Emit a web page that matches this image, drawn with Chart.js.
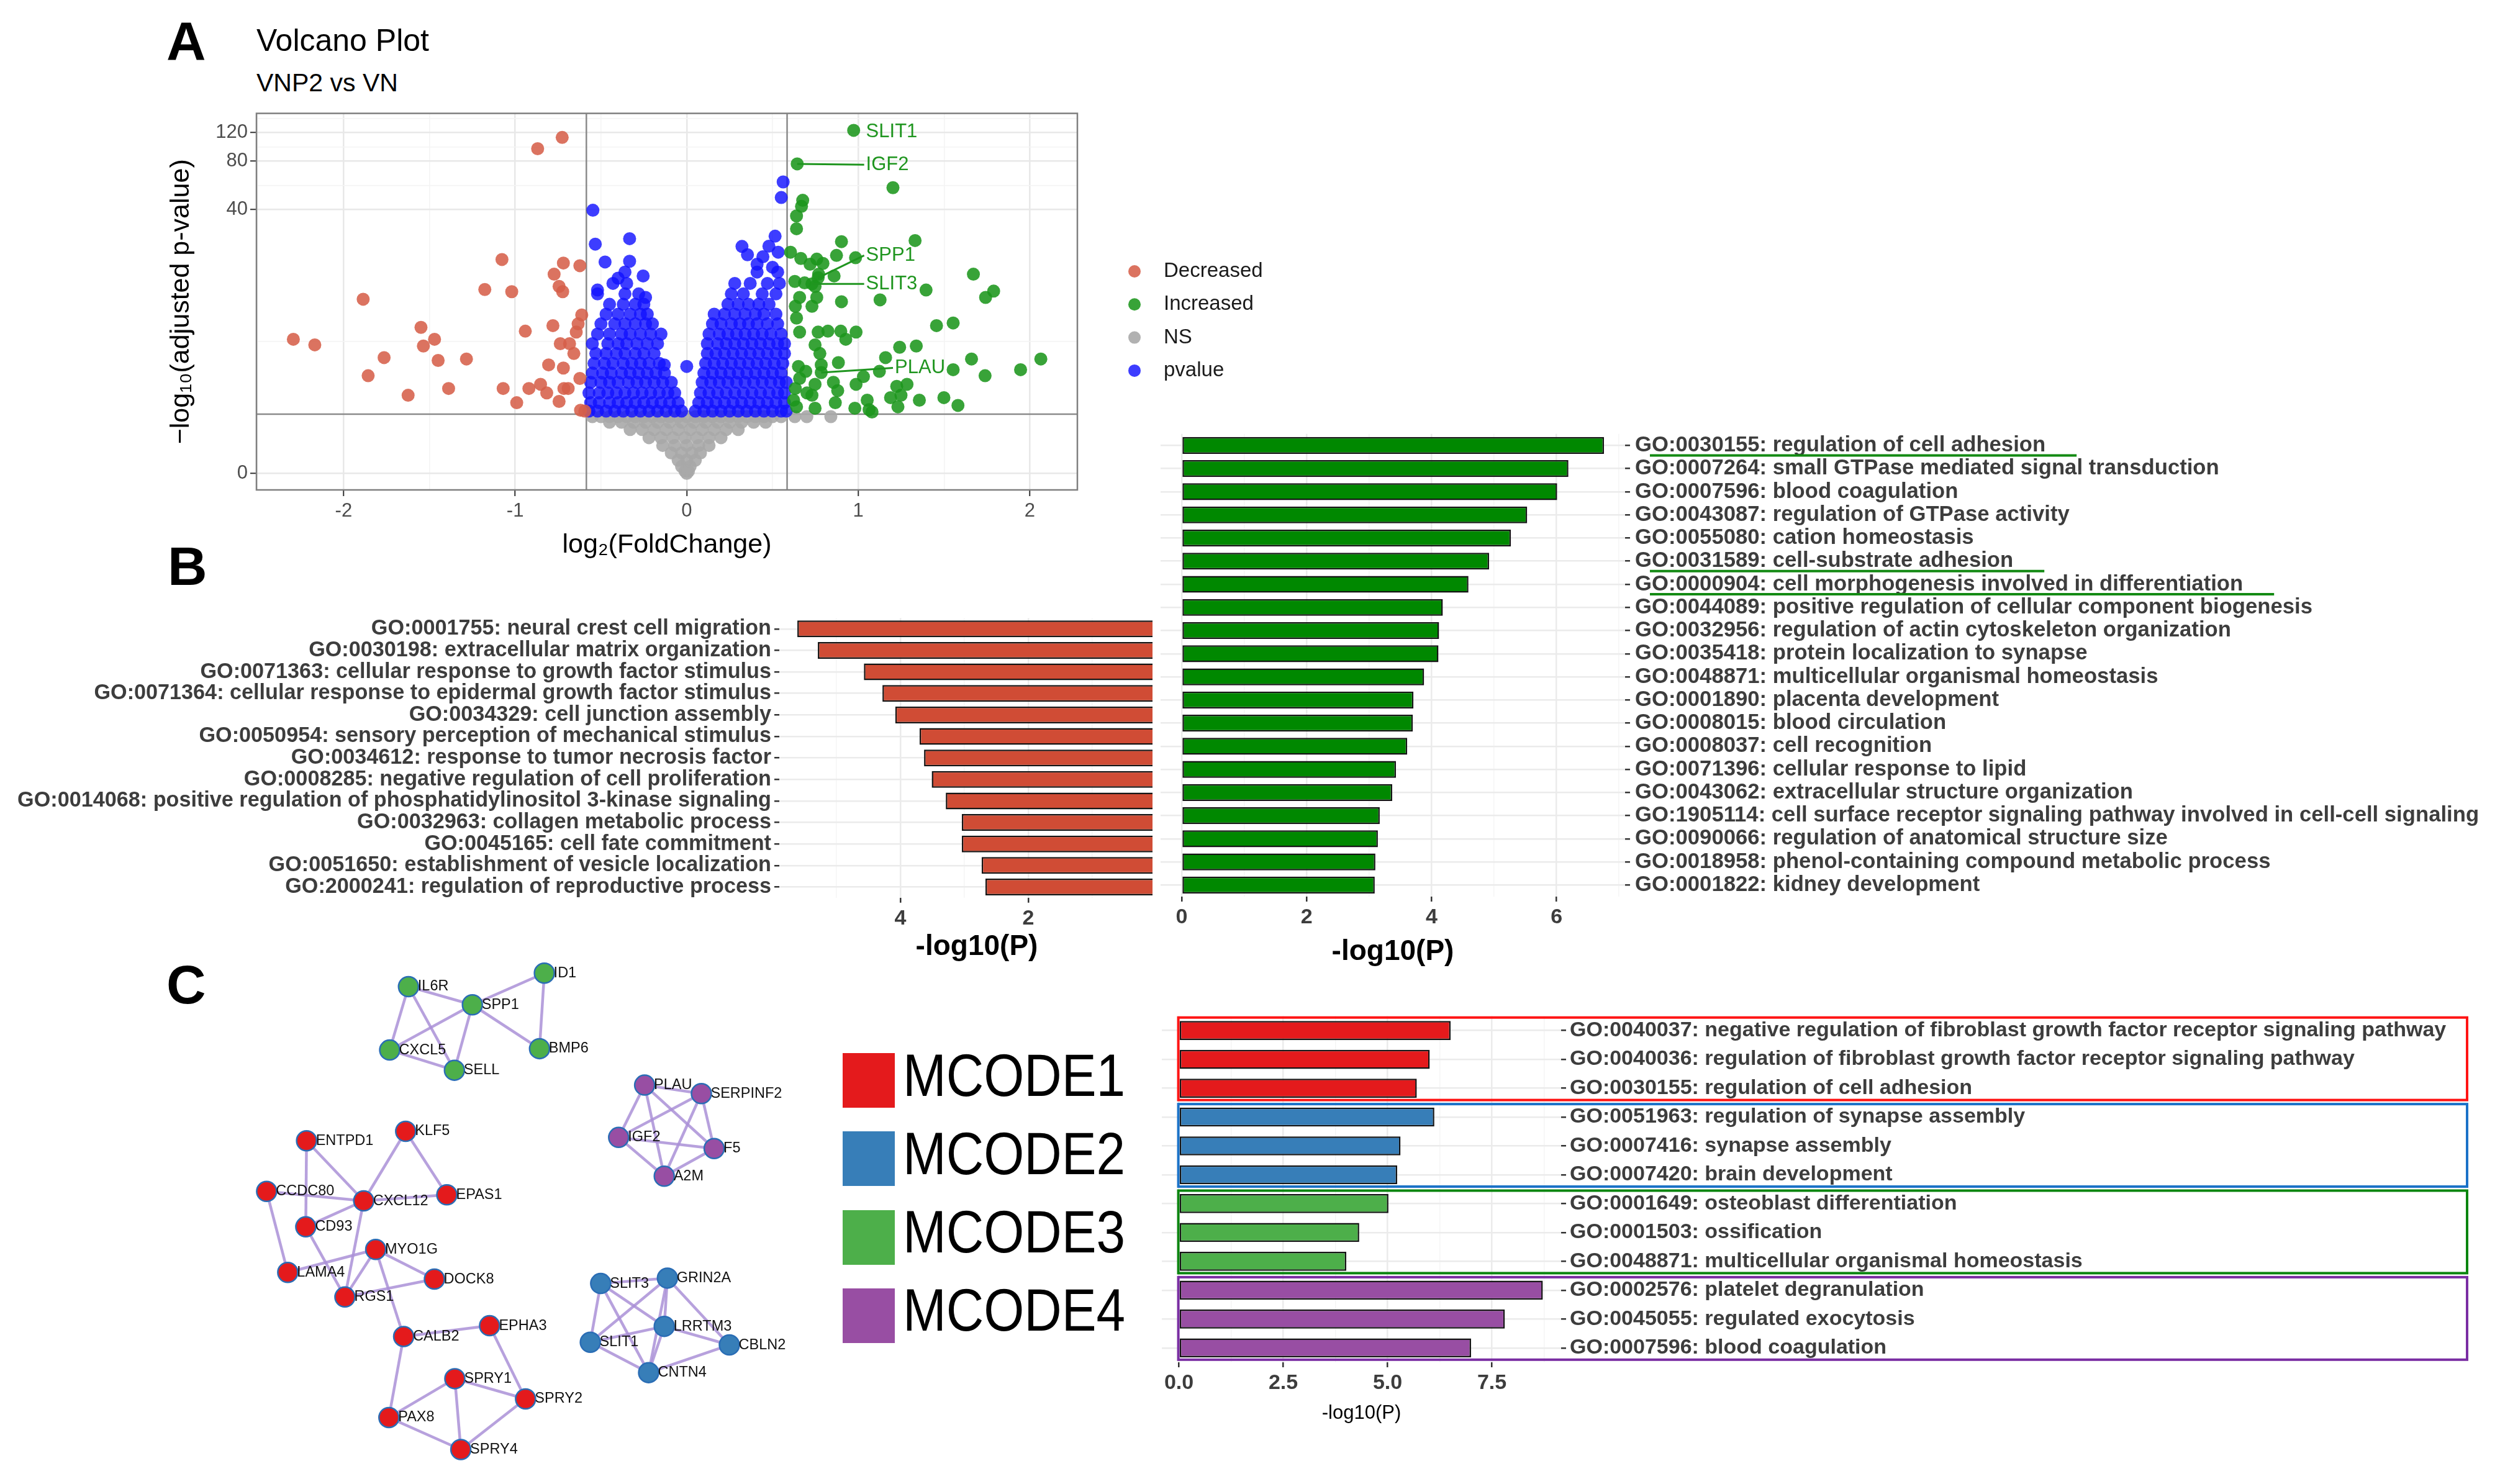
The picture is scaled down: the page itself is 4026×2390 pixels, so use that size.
<!DOCTYPE html>
<html>
<head>
<meta charset="utf-8">
<title>Volcano plot, GO enrichment and MCODE clusters</title>
<script src="https://cdn.jsdelivr.net/npm/chart.js@4.4.1/dist/chart.umd.min.js"></script>
<style>
  html, body { margin: 0; padding: 0; background: #fff; }
  body { width: 4026px; height: 2390px; position: relative; overflow: hidden;
         font-family: "Liberation Sans", Arial, sans-serif; color: #000; }
  canvas, .txt { position: absolute; }
  .txt { line-height: 1; white-space: nowrap; }
  .letter { font-weight: bold; font-size: 88px; }
  .swatch { position: absolute; width: 84px; height: 88px; }
  .mcode { position: absolute; font-size: 96px; line-height: 1; transform: scaleX(0.872); transform-origin: left top; }
  #up { background: #fff; }
</style>
</head>
<body>
<div class="txt letter" style="left:268px;top:22px">A</div>
<div class="txt letter" style="left:270px;top:868px">B</div>
<div class="txt letter" style="left:268px;top:1542px">C</div>
<div class="txt" style="left:413px;top:40px;font-size:50px">Volcano Plot</div>
<div class="txt" style="left:413px;top:113px;font-size:41px">VNP2 vs VN</div>

<script>
// ---------- Panel A: volcano ----------
const volcanoXTicks = [-2, -1, 0, 1, 2];
const volcanoXMinor = [-2.5, -1.5, -0.5, 0.5, 1.5];
const volcanoYTicks = [0, 40, 80, 120];
const fcCut = 0.585;   // log2(1.5)
const pCut = 1.301;    // -log10(0.05)

// [log2FC, -log10 padj]
const decreased = [
  [-0.726,112.2],[-0.869,95.6],[-1.077,19.3],[-0.719,18.3],[-0.623,17.6],[-0.773,15.5],[-0.744,12.9],
  [-0.723,11.9],[-1.177,12.3],[-1.020,11.9],[-1.886,10.6],[-1.549,6.8],[-0.941,6.4],[-0.780,7.0],
  [-0.612,8.3],[-0.633,7.2],[-0.644,6.3],[-2.293,5.6],[-2.168,5.1],[-1.470,5.6],[-1.535,5.0],
  [-0.737,5.2],[-0.683,5.2],[-0.658,4.4],[-1.764,4.1],[-1.449,3.9],[-1.284,4.0],[-0.805,3.6],
  [-0.719,3.4],[-1.857,2.95],[-0.623,2.8],[-1.070,2.3],[-0.920,2.3],[-0.852,2.5],[-0.816,2.1],
  [-0.716,2.3],[-0.691,2.3],[-1.388,2.3],[-1.624,2.0],[-0.991,1.7],[-0.744,1.75],[-0.619,1.43],[-0.594,1.4]
];
const increased = [
  [1.202,54.8],[0.676,45.7],[0.669,41.9],[0.640,36.5],[0.640,30.3],[0.902,25.1],[1.331,25.5],
  [0.605,21.5],[0.873,20.5],[0.984,19.8],[0.665,19.6],[0.758,19.4],[0.719,18.0],[0.794,18.2],
  [0.769,15.5],[0.859,15.1],[0.630,13.9],[0.687,13.6],[0.748,12.9],[1.671,15.5],[1.789,12.0],
  [1.742,10.9],[1.395,12.2],[1.127,10.5],[0.902,10.2],[0.658,10.9],[0.758,10.9],[0.730,9.5],
  [0.633,9.5],[0.640,7.9],[1.456,7.0],[1.553,7.3],[0.658,6.3],[0.766,6.3],[0.823,6.4],[0.898,6.4],
  [0.987,6.3],[0.927,5.6],[1.241,4.9],[1.338,5.0],[0.748,5.1],[0.776,4.4],[1.159,4.1],[1.660,4.0],
  [2.064,4.0],[0.884,3.75],[0.784,3.6],[1.123,3.2],[0.651,3.5],[0.694,3.2],[1.553,3.3],[1.946,3.3],
  [1.739,2.95],[1.030,2.9],[0.987,2.5],[0.855,2.6],[1.284,2.5],[1.224,2.4],[0.658,2.8],[0.748,2.5],
  [0.633,2.3],[0.701,2.1],[0.880,2.2],[1.188,1.9],[1.249,2.0],[1.356,1.8],[1.499,1.9],[1.052,1.8],
  [0.866,1.7],[0.623,1.8],[0.730,2.0],[1.581,1.6],[0.980,1.5],[1.063,1.45],[1.231,1.55],[1.080,1.37],
  [0.748,1.5],[0.640,1.55]
];
// labelled genes (also Increased)
const geneNames = ['SLIT1', 'IGF2', 'SPP1', 'SLIT3', 'PLAU'];
const genePoints = [[0.973,124.1],[0.644,77.0],[0.766,14.7],[0.730,13.4],[0.784,3.13]];

// dense clouds read row by row: [-log10 padj, [log2FC ...]]
const pvalueRows = [
  [1.4,  [-0.57,-0.52,-0.47,-0.42,-0.37,-0.32,-0.27,-0.22,-0.17,-0.12,-0.07,-0.03,
          0.05,0.10,0.15,0.20,0.25,0.30,0.35,0.40,0.45,0.50,0.55,0.58]],
  [1.7,  [-0.56,-0.51,-0.45,-0.40,-0.35,-0.30,-0.25,-0.20,-0.15,-0.10,-0.05,
          0.07,0.12,0.17,0.22,0.27,0.32,0.37,0.42,0.47,0.52,0.57]],
  [2.1,  [-0.57,-0.51,-0.46,-0.41,-0.36,-0.31,-0.26,-0.21,-0.16,-0.11,-0.07,
          0.08,0.13,0.18,0.23,0.28,0.33,0.38,0.43,0.48,0.53,0.57]],
  [2.6,  [-0.56,-0.50,-0.45,-0.40,-0.34,-0.29,-0.24,-0.19,-0.14,-0.09,
          0.09,0.14,0.19,0.24,0.29,0.34,0.39,0.44,0.49,0.54,0.58]],
  [3.1,  [-0.55,-0.49,-0.44,-0.38,-0.33,-0.28,-0.23,-0.18,-0.13,
          0.10,0.15,0.20,0.25,0.30,0.35,0.40,0.45,0.50,0.55]],
  [3.7,  [-0.54,-0.48,-0.43,-0.37,-0.32,-0.27,-0.22,-0.16,
          0.11,0.16,0.21,0.26,0.31,0.36,0.41,0.46,0.51,0.56]],
  [4.4,  [-0.53,-0.47,-0.41,-0.36,-0.30,-0.25,-0.19,
          0.12,0.17,0.22,0.27,0.32,0.37,0.42,0.47,0.52,0.57]],
  [5.2,  [-0.55,-0.46,-0.40,-0.35,-0.29,-0.23,-0.17,
          0.12,0.18,0.23,0.28,0.33,0.38,0.43,0.48,0.53,0.57]],
  [6.1,  [-0.52,-0.45,-0.38,-0.33,-0.27,-0.21,-0.15,
          0.13,0.19,0.24,0.29,0.34,0.39,0.44,0.49,0.55]],
  [7.2,  [-0.50,-0.42,-0.36,-0.30,-0.24,-0.20, 0.15,0.20,0.26,0.31,0.36,0.41,0.47,0.53]],
  [8.4,  [-0.47,-0.40,-0.33,-0.27,-0.23, 0.16,0.22,0.28,0.34,0.40,0.45,0.52]],
  [9.8,  [-0.45,-0.37,-0.30,-0.25, 0.24,0.30,0.36,0.42,0.48]],
  [11.5, [-0.52,-0.36,-0.28, 0.26,0.33,0.44,0.52]],
  [13.5, [-0.43,-0.35, 0.28,0.37,0.47,0.54]],
  [16.0, [0.41,0.53]]
];
const pvalueSparse = [
  [-0.547,39.6],[-0.533,24.2],[-0.333,26.2],[-0.476,18.6],[-0.333,18.8],[-0.254,15.1],[-0.40,14.6],
  [-0.36,16.0],[-0.52,12.2],[-0.24,10.9],[-0.131,3.6],[0.0,3.5],[0.562,59.5],[0.551,47.6],[0.515,27.2],
  [0.322,23.4],[0.479,23.5],[0.354,20.7],[0.444,20.1],[0.533,21.5],[0.41,18.0],[0.50,17.2]
];
const nsRows = [
  [1.22, [-0.55,-0.50,-0.45,-0.40,-0.35,-0.30,-0.25,-0.20,-0.15,-0.10,-0.05,0.00,0.05,0.10,0.15,
          0.20,0.25,0.30,0.35,0.40,0.45,0.50,0.55,0.63,0.70,0.84]],
  [1.05, [-0.45,-0.38,-0.31,-0.24,-0.17,-0.10,-0.03,0.04,0.11,0.18,0.25,0.32,0.39,0.46]],
  [0.85, [-0.33,-0.26,-0.19,-0.12,-0.05,0.02,0.09,0.16,0.23,0.30]],
  [0.65, [-0.22,-0.15,-0.08,-0.01,0.06,0.13,0.20]],
  [0.48, [-0.14,-0.07,0.00,0.07,0.13]],
  [0.33, [-0.09,-0.03,0.03,0.08]],
  [0.20, [-0.05,0.00,0.05]],
  [0.10, [-0.03,0.02]],
  [0.03, [-0.01,0.01]],
  [0.00, [0.00]]
];

// ---------- Panel B: GO enrichment ----------
const downTerms = [
  'GO:0001755: neural crest cell migration',
  'GO:0030198: extracellular matrix organization',
  'GO:0071363: cellular response to growth factor stimulus',
  'GO:0071364: cellular response to epidermal growth factor stimulus',
  'GO:0034329: cell junction assembly',
  'GO:0050954: sensory perception of mechanical stimulus',
  'GO:0034612: response to tumor necrosis factor',
  'GO:0008285: negative regulation of cell proliferation',
  'GO:0014068: positive regulation of phosphatidylinositol 3-kinase signaling',
  'GO:0032963: collagen metabolic process',
  'GO:0045165: cell fate commitment',
  'GO:0051650: establishment of vesicle localization',
  'GO:2000241: regulation of reproductive process'
];
const downValues = [5.61, 5.29, 4.57, 4.28, 4.08, 3.70, 3.63, 3.51, 3.29, 3.04, 3.04, 2.73, 2.67];
const downTicks = [2, 4];
const downMinor = [1, 3, 5];

const upTerms = [
  'GO:0030155: regulation of cell adhesion',
  'GO:0007264: small GTPase mediated signal transduction',
  'GO:0007596: blood coagulation',
  'GO:0043087: regulation of GTPase activity',
  'GO:0055080: cation homeostasis',
  'GO:0031589: cell-substrate adhesion',
  'GO:0000904: cell morphogenesis involved in differentiation',
  'GO:0044089: positive regulation of cellular component biogenesis',
  'GO:0032956: regulation of actin cytoskeleton organization',
  'GO:0035418: protein localization to synapse',
  'GO:0048871: multicellular organismal homeostasis',
  'GO:0001890: placenta development',
  'GO:0008015: blood circulation',
  'GO:0008037: cell recognition',
  'GO:0071396: cellular response to lipid',
  'GO:0043062: extracellular structure organization',
  'GO:1905114: cell surface receptor signaling pathway involved in cell-cell signaling',
  'GO:0090066: regulation of anatomical structure size',
  'GO:0018958: phenol-containing compound metabolic process',
  'GO:0001822: kidney development'
];
const upValues = [6.76, 6.19, 6.01, 5.53, 5.27, 4.92, 4.59, 4.18, 4.12, 4.11,
                  3.88, 3.71, 3.70, 3.61, 3.43, 3.37, 3.17, 3.14, 3.10, 3.09];
const upHighlighted = ['GO:0030155: regulation of cell adhesion',
                       'GO:0031589: cell-substrate adhesion',
                       'GO:0000904: cell morphogenesis involved in differentiation'];
const upTicks = [0, 2, 4, 6];
const upMinor = [1, 3, 5, 7];

// ---------- Panel C: MCODE network + enrichment ----------
const mcodeNames = ['MCODE1', 'MCODE2', 'MCODE3', 'MCODE4'];
const nodeNames = ['IL6R','SPP1','ID1','CXCL5','SELL','BMP6',
  'PLAU','SERPINF2','IGF2','F5','A2M',
  'ENTPD1','KLF5','CCDC80','CXCL12','EPAS1','CD93','MYO1G','LAMA4','DOCK8','RGS1','CALB2','EPHA3',
  'SPRY1','SPRY2','PAX8','SPRY4',
  'SLIT3','GRIN2A','LRRTM3','SLIT1','CBLN2','CNTN4'];
const nodeCluster = [2,2,2,2,2,2, 3,3,3,3,3, 0,0,0,0,0,0,0,0,0,0,0,0,0,0,0,0, 1,1,1,1,1,1];
// layout coordinates of the network drawing
const nodeX = [26.98,37.69,49.75,23.83,34.68,48.94, 66.55,76.06,62.20,78.20,69.84,
  9.90,26.51,3.21,19.48,33.41,9.77,21.49,6.75,31.33,16.33,26.17,40.57,34.75,46.60,23.70,35.75,
  59.19,70.37,69.84,57.45,80.75,67.22];
const nodeY = [5.27,8.33,3.00,15.94,19.34,15.71, 21.84,23.26,30.64,32.51,37.16,
  31.20,29.61,39.72,41.31,40.29,45.68,49.48,53.34,54.47,57.48,64.12,62.31,71.22,74.62,77.75,83.14,
  55.21,54.30,62.42,65.09,65.54,70.20];
const edges = [
  ['IL6R','SPP1'],['IL6R','CXCL5'],['IL6R','SELL'],['SPP1','CXCL5'],['SPP1','SELL'],['SPP1','ID1'],
  ['SPP1','BMP6'],['CXCL5','SELL'],['ID1','BMP6'],
  ['PLAU','SERPINF2'],['PLAU','IGF2'],['PLAU','F5'],['PLAU','A2M'],['SERPINF2','IGF2'],['SERPINF2','F5'],
  ['SERPINF2','A2M'],['IGF2','F5'],['IGF2','A2M'],['F5','A2M'],
  ['ENTPD1','CD93'],['ENTPD1','CXCL12'],['KLF5','CXCL12'],['KLF5','EPAS1'],['CCDC80','CXCL12'],
  ['CCDC80','LAMA4'],['CXCL12','EPAS1'],['CXCL12','CD93'],['CXCL12','RGS1'],['CD93','RGS1'],
  ['MYO1G','LAMA4'],['MYO1G','RGS1'],['MYO1G','DOCK8'],['MYO1G','CALB2'],['RGS1','DOCK8'],
  ['CALB2','EPHA3'],['CALB2','PAX8'],['EPHA3','SPRY2'],['SPRY1','SPRY2'],['SPRY1','PAX8'],
  ['SPRY1','SPRY4'],['PAX8','SPRY4'],['SPRY2','SPRY4'],
  ['SLIT3','GRIN2A'],['SLIT3','LRRTM3'],['SLIT3','SLIT1'],['SLIT3','CNTN4'],['GRIN2A','SLIT1'],
  ['GRIN2A','LRRTM3'],['GRIN2A','CNTN4'],['GRIN2A','CBLN2'],['LRRTM3','SLIT1'],['LRRTM3','CBLN2'],
  ['LRRTM3','CNTN4'],['SLIT1','CNTN4'],['CNTN4','CBLN2']
];
const mcodeTerms = [
  'GO:0040037: negative regulation of fibroblast growth factor receptor signaling pathway',
  'GO:0040036: regulation of fibroblast growth factor receptor signaling pathway',
  'GO:0030155: regulation of cell adhesion',
  'GO:0051963: regulation of synapse assembly',
  'GO:0007416: synapse assembly',
  'GO:0007420: brain development',
  'GO:0001649: osteoblast differentiation',
  'GO:0001503: ossification',
  'GO:0048871: multicellular organismal homeostasis',
  'GO:0002576: platelet degranulation',
  'GO:0045055: regulated exocytosis',
  'GO:0007596: blood coagulation'
];
const mcodeValues = [6.51, 6.01, 5.70, 6.12, 5.31, 5.23, 5.02, 4.32, 4.01, 8.72, 7.81, 7.00];
const mcodeGroup = [0, 0, 0, 1, 1, 1, 2, 2, 2, 3, 3, 3];
const mcodeTicks = [0, 2.5, 5, 7.5];
const mcodeMinor = [1.25, 3.75, 6.25, 8.75];

// palettes
const mcodeFill = ['#e41a1c', '#377eb8', '#4daf4a', '#984ea3'];
const mcodeFrame = ['#ff1414', '#1b72c8', '#0b850f', '#7a2ea3'];

// ---------- shared setup ----------
const FAMILY = "'Liberation Sans', 'DejaVu Sans', Arial, sans-serif";
Chart.defaults.animation = false;
Chart.defaults.responsive = false;
Chart.defaults.events = [];
Chart.defaults.font.family = FAMILY;
Chart.defaults.plugins.legend.display = false;
Chart.defaults.plugins.tooltip.enabled = false;

const yT = v => Math.log10(1 + v);
const flattenRows = rows => rows.flatMap(([p, xs]) => xs.map(x => [x, p]));
const toXY = pts => pts.map(([x, p]) => ({x: x, y: yT(p)}));

function makeCanvas(id, left, top, w, h) {
  const c = document.createElement('canvas');
  c.id = id; c.width = w; c.height = h;
  c.style.left = left + 'px'; c.style.top = top + 'px';
  document.body.appendChild(c);
  return c;
}

function tickSet(majors, minors, fmt) {
  return majors.map(v => ({value: v, lbl: fmt(v)}))
    .concat(minors.map(v => ({value: v, lbl: '', minor: true})))
    .sort((a, b) => a.value - b.value);
}
function useTicks(list) {
  return scale => {
    scale.ticks = list.filter(t => t.value >= Math.min(scale.min, scale.max) - 1e-9 &&
                                   t.value <= Math.max(scale.min, scale.max) + 1e-9)
                      .map(t => Object.assign({}, t));
  };
}
const tickLabel = (v, i, ticks) => ticks[i].lbl || '';
const gridColor = (major, minor) => c => (c.tick && c.tick.minor ? minor : major);
const tickMarkColor = c => (c.tick && c.tick.minor ? 'rgba(0,0,0,0)' : '#333');

// ---------- Panel A chart ----------
const volcanoDecor = {
  id: 'volcanoDecor',
  beforeDatasetsDraw(chart, args, o) {
    const {ctx, chartArea: a, scales: {x, y}} = chart;
    ctx.save();
    ctx.strokeStyle = o.cutColor; ctx.lineWidth = o.cutWidth;
    ctx.beginPath();
    [-fcCut, fcCut].forEach(v => {
      const px = x.getPixelForValue(v);
      ctx.moveTo(px, a.top); ctx.lineTo(px, a.bottom);
    });
    const py = y.getPixelForValue(yT(pCut));
    ctx.moveTo(a.left, py); ctx.lineTo(a.right, py);
    ctx.stroke();
    ctx.restore();
  },
  afterDatasetsDraw(chart, args, o) {
    const {ctx, chartArea: a, scales: {x, y}} = chart;
    ctx.save();
    // gene labels
    ctx.fillStyle = o.geneColor; ctx.strokeStyle = o.geneColor; ctx.lineWidth = 3;
    ctx.font = o.geneFont; ctx.textBaseline = 'middle';
    geneNames.forEach((g, i) => {
      const [gx, gp] = genePoints[i];
      const [tx, tp] = o.labelAt[g];
      const px = x.getPixelForValue(gx), py = y.getPixelForValue(yT(gp));
      const lx = x.getPixelForValue(tx), ly = y.getPixelForValue(yT(tp));
      if (o.leaders.includes(g)) {
        ctx.beginPath(); ctx.moveTo(px, py); ctx.lineTo(lx - 3, ly); ctx.stroke();
      }
      ctx.fillText(g, lx, ly);
    });
    // panel frame
    ctx.strokeStyle = o.frameColor; ctx.lineWidth = o.frameWidth;
    ctx.strokeRect(a.left, a.top, a.right - a.left, a.bottom - a.top);
    // legend
    ctx.font = o.legendFont;
    o.legendOrder.forEach((lab, i) => {
      const ds = chart.data.datasets.find(d => d.label === lab);
      const cy = o.legendTop + i * o.legendGap;
      ctx.beginPath();
      ctx.fillStyle = ds.backgroundColor;
      ctx.arc(a.right + o.legendDx, cy, 10, 0, Math.PI * 2);
      ctx.fill();
      ctx.fillStyle = '#1a1a1a';
      ctx.fillText(lab, a.right + o.legendDx + 47, cy);
    });
    ctx.restore();
  }
};

const yMajor = volcanoYTicks.map(yT);
const yMinorT = [];
for (let i = 0; i < yMajor.length - 1; i++) yMinorT.push((yMajor[i] + yMajor[i + 1]) / 2);
yMinorT.push(yMajor[yMajor.length - 1] + (yMajor[yMajor.length - 1] - yMajor[yMajor.length - 2]) / 2);
const volcanoYTickSet = volcanoYTicks.map((v, i) => ({value: yMajor[i], lbl: String(v)}))
  .concat(yMinorT.map(v => ({value: v, lbl: '', minor: true})));

new Chart(makeCanvas('volcano', 250, 160, 1900, 760), {
  type: 'scatter',
  data: {
    datasets: [
      {label: 'Increased', data: toXY(increased.concat(genePoints)), backgroundColor: 'rgba(28,150,28,0.88)'},
      {label: 'Decreased', data: toXY(decreased), backgroundColor: 'rgba(214,96,74,0.88)'},
      {label: 'pvalue', data: toXY(flattenRows(pvalueRows).concat(pvalueSparse)), backgroundColor: 'rgba(18,18,255,0.82)'},
      {label: 'NS', data: toXY(flattenRows(nsRows)), backgroundColor: 'rgba(168,168,168,0.9)'}
    ]
  },
  options: {
    layout: {padding: {top: 18, right: 415, left: 0, bottom: 0}},
    elements: {point: {radius: 10.5, borderWidth: 0}},
    scales: {
      x: {
        min: -2.508, max: 2.277,
        afterFit: s => { s.height = 131; },
        afterBuildTicks: useTicks(tickSet(volcanoXTicks, volcanoXMinor, v => String(v))),
        border: {display: false},
        grid: {color: gridColor('#e8e8e8', '#f4f4f4'), lineWidth: c => (c.tick && c.tick.minor ? 1.5 : 2.5),
               tickColor: tickMarkColor, tickLength: 10, tickWidth: 2},
        ticks: {callback: tickLabel, autoSkip: false, maxRotation: 0, padding: 6,
                color: '#4d4d4d', font: {size: 31}},
        title: {display: true, text: 'log\u2082(FoldChange)', color: '#000',
                font: {size: 43}, padding: {top: 0, bottom: 16}}
      },
      y: {
        min: -0.1017, max: 2.201,
        afterFit: s => { s.width = 163; },
        afterBuildTicks: s => { s.ticks = volcanoYTickSet.map(t => Object.assign({}, t)); },
        border: {display: false},
        grid: {color: gridColor('#e8e8e8', '#f4f4f4'), lineWidth: c => (c.tick && c.tick.minor ? 1.5 : 2.5),
               tickColor: tickMarkColor, tickLength: 10, tickWidth: 2},
        ticks: {callback: tickLabel, autoSkip: false, padding: 4, color: '#4d4d4d', font: {size: 31}},
        title: {display: true, text: '\u2212log\u2081\u2080(adjusted p-value)', color: '#000',
                font: {size: 43}, padding: {top: 16, bottom: 0}}
      }
    },
    plugins: {
      volcanoDecor: {
        cutColor: '#8a8a8a', cutWidth: 2.5,
        frameColor: '#7f7f7f', frameWidth: 2.5,
        geneColor: '#1f951f', geneFont: '31px ' + FAMILY,
        labelAt: {SLIT1: [1.045, 121.7], IGF2: [1.045, 76.2], SPP1: [1.045, 20.5],
                  SLIT3: [1.045, 13.4], PLAU: [1.213, 3.41]},
        leaders: ['IGF2', 'SPP1', 'SLIT3', 'PLAU'],
        legendOrder: ['Decreased', 'Increased', 'NS', 'pvalue'],
        legendFont: '33px ' + FAMILY, legendDx: 92, legendTop: 277, legendGap: 53.3
      }
    }
  },
  plugins: [volcanoDecor]
});

// ---------- Panel B charts ----------
const labelColor = '#3d3d3d';

function barValueAxis(min, max, ticks, height, titleFont, titlePad, reverse) {
  return {
    min: min, max: max, reverse: !!reverse,
    afterFit: s => { s.height = height; },
    afterBuildTicks: useTicks(ticks),
    border: {display: false},
    grid: {color: gridColor('#ebebeb', '#f5f5f5'), lineWidth: c => (c.tick && c.tick.minor ? 1.5 : 2.5),
           tickColor: tickMarkColor, tickLength: 8, tickWidth: 2.5},
    ticks: {callback: tickLabel, autoSkip: false, maxRotation: 0, padding: 5, color: labelColor,
            font: {size: 34, weight: 'bold'}},
    title: {display: true, text: '-log10(P)', color: '#000', font: titleFont, padding: {top: 0, bottom: titlePad}}
  };
}
function barCatAxis(width, position, padding, size) {
  return {
    position: position,
    afterFit: s => { s.width = width; },
    border: {display: false},
    grid: {offset: false, color: '#ebebeb', lineWidth: 2.5, tickColor: '#333', tickLength: 8, tickWidth: 2.5},
    ticks: {autoSkip: false, padding: padding, color: labelColor, font: {size: size, weight: 'bold'}}
  };
}

// the right edge of this panel sits under the green panel, as in the figure
new Chart(makeCanvas('down', 0, 970, 1891, 600), {
  type: 'bar',
  data: {labels: downTerms, datasets: [{data: downValues, backgroundColor: '#d04c35', borderColor: '#141414',
         borderWidth: 2.5, borderSkipped: false, barPercentage: 0.78, categoryPercentage: 1}]},
  options: {
    indexAxis: 'y',
    layout: {padding: {top: 24, left: 0, right: 0, bottom: 0}},
    scales: {
      x: barValueAxis(-0.28, 5.892, tickSet(downTicks, downMinor, v => String(v)), 124.2, {size: 46, weight: 'bold'}, 17, true),
      y: barCatAxis(1255, 'left', 5, 34.2)
    }
  }
});

const underline = {
  id: 'underline',
  afterDraw(chart, args, o) {
    const s = chart.scales.y, ctx = chart.ctx;
    const x0 = s.left + s.options.grid.tickLength + s.options.ticks.padding;
    ctx.save();
    ctx.font = 'bold ' + s.options.ticks.font.size + 'px ' + FAMILY;
    ctx.strokeStyle = o.color; ctx.lineWidth = o.width;
    upHighlighted.forEach(term => {
      const i = upTerms.indexOf(term);
      const y = s.getPixelForValue(i) + o.dy;
      const w = ctx.measureText(term).width;
      ctx.beginPath(); ctx.moveTo(x0 + o.inset, y); ctx.lineTo(x0 + w + o.overhang, y); ctx.stroke();
    });
    ctx.restore();
  }
};

new Chart(makeCanvas('up', 1856, 670, 2170, 900), {
  type: 'bar',
  data: {labels: upTerms, datasets: [{data: upValues, backgroundColor: '#008800', borderColor: '#141414',
         borderWidth: 2.5, borderSkipped: false, barPercentage: 0.73, categoryPercentage: 1}]},
  options: {
    indexAxis: 'y',
    layout: {padding: {top: 23.2, left: 13, right: 0, bottom: 0}},
    scales: {
      x: barValueAxis(-0.338, 7.097, tickSet(upTicks, upMinor, v => String(v)), 126, {size: 46, weight: 'bold'}, 9),
      y: barCatAxis(1409, 'right', 8, 34.7)
    },
    plugins: {underline: {color: '#138a13', width: 4, dy: 16, inset: 24, overhang: 50}}
  },
  plugins: [underline]
});

// ---------- Panel C: network ----------
const nodeLabels = {
  id: 'nodeLabels',
  afterDatasetsDraw(chart, args, o) {
    const ctx = chart.ctx;
    ctx.save();
    ctx.font = o.font; ctx.fillStyle = '#111'; ctx.textBaseline = 'middle';
    chart.data.datasets.forEach((ds, di) => {
      if (!ds.isNodes) return;
      chart.getDatasetMeta(di).data.forEach((el, j) => ctx.fillText(ds.data[j].name, el.x + o.dx, el.y));
    });
    ctx.restore();
  }
};
const nodePoint = name => { const i = nodeNames.indexOf(name); return {x: nodeX[i], y: nodeY[i], name: name}; };

const nodeSets = mcodeNames.map((m, c) => ({
  label: m, isNodes: true,
  data: nodeNames.filter((n, i) => nodeCluster[i] === c).map(nodePoint),
  backgroundColor: mcodeFill[c], borderColor: '#2a6db5', borderWidth: 2.5, pointRadius: 16
}));
const edgeSets = edges.map(([a, b]) => ({
  data: [nodePoint(a), nodePoint(b)], showLine: true, pointRadius: 0,
  borderColor: 'rgba(170,145,215,0.85)', borderWidth: 4.5
}));

new Chart(makeCanvas('network', 380, 1520, 950, 870), {
  type: 'scatter',
  data: {datasets: nodeSets.concat(edgeSets)},
  options: {
    layout: {padding: 0},
    clip: false,
    scales: {x: {display: false, min: 0, max: 95}, y: {display: false, min: 0, max: 87, reverse: true}},
    plugins: {nodeLabels: {font: '23.5px ' + FAMILY, dx: 15}}
  },
  plugins: [nodeLabels]
});

// MCODE legend
mcodeNames.forEach((m, i) => {
  const top = 1696 + i * 126.3;
  const sw = document.createElement('div');
  sw.className = 'swatch';
  sw.style.left = '1357px'; sw.style.top = top + 'px'; sw.style.background = mcodeFill[i];
  document.body.appendChild(sw);
  const t = document.createElement('div');
  t.className = 'mcode'; t.textContent = m;
  t.style.left = '1454px'; t.style.top = (top - 12.5) + 'px';
  document.body.appendChild(t);
});

// ---------- Panel C: MCODE enrichment ----------
const groupBoxes = {
  id: 'groupBoxes',
  afterDatasetsDraw(chart, args, o) {
    const {ctx, scales: {x, y}} = chart;
    const step = y.getPixelForValue(1) - y.getPixelForValue(0);
    ctx.save();
    ctx.lineWidth = o.width;
    mcodeNames.forEach((m, g) => {
      const idx = mcodeGroup.map((v, i) => (v === g ? i : -1)).filter(i => i >= 0);
      const top = y.getPixelForValue(idx[0]) - o.above * step;
      const bottom = y.getPixelForValue(idx[idx.length - 1]) + o.below * step;
      const left = x.getPixelForValue(0) - 1;
      const right = chart.width - o.rightGap;
      ctx.strokeStyle = mcodeFrame[g];
      ctx.strokeRect(left, top, right - left, bottom - top);
    });
    ctx.restore();
  }
};

new Chart(makeCanvas('mcodeBars', 1860, 1610, 2166, 720), {
  type: 'bar',
  data: {labels: mcodeTerms, datasets: [{data: mcodeValues, backgroundColor: mcodeGroup.map(g => mcodeFill[g]),
         borderColor: '#141414', borderWidth: 2.5, borderSkipped: false, barPercentage: 0.66, categoryPercentage: 1}]},
  options: {
    indexAxis: 'y',
    layout: {padding: {top: 21, left: 11, right: 0, bottom: 0}},
    scales: {
      x: barValueAxis(-0.41, 9.158, tickSet(mcodeTicks, mcodeMinor, v => v.toFixed(1)), 136, {size: 31}, 35),
      y: barCatAxis(1512, 'right', 6, 34)
    },
    plugins: {groupBoxes: {width: 4, above: 0.45, below: 0.41, rightGap: 53}}
  },
  plugins: [groupBoxes]
});
</script>
</body>
</html>
